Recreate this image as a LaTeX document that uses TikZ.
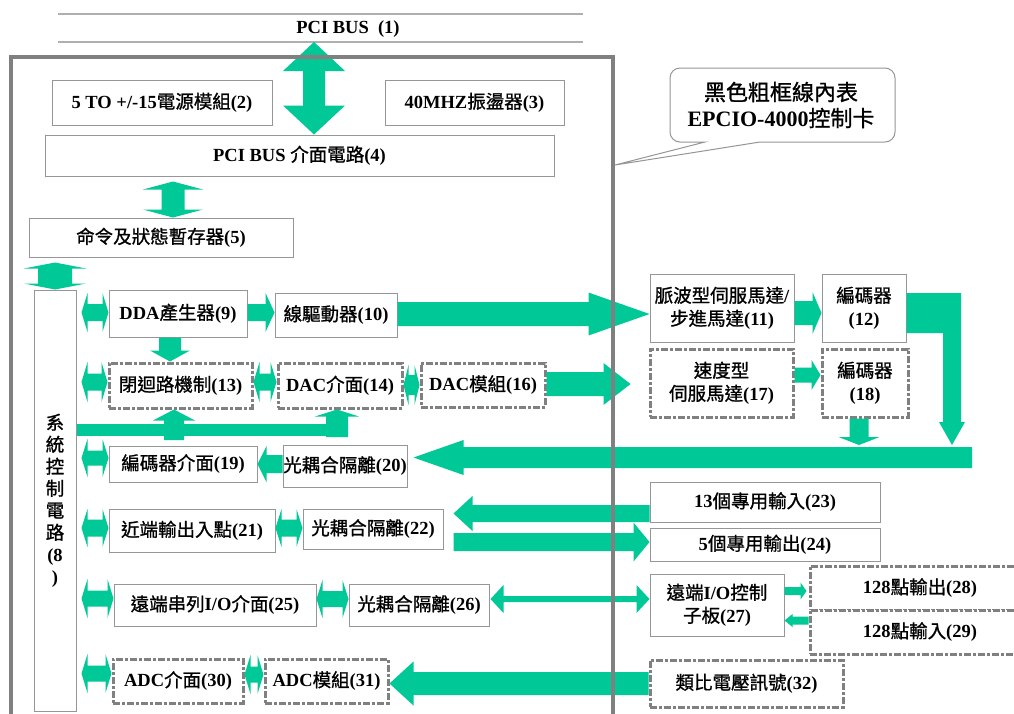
\documentclass[tikz,border=0pt]{standalone}
\usepackage{fontspec}
\setmainfont{Liberation Serif}
\newfontfamily\cjk{Noto Sans CJK TC}[FakeBold=1]
\newcommand\z[1]{{\cjk\mdseries #1}}
\usetikzlibrary{calc}
\definecolor{grn}{RGB}{0,200,150}
\definecolor{edgegray}{RGB}{150,150,150}
\definecolor{framegray}{RGB}{128,128,128}
\definecolor{busgray}{RGB}{175,175,175}

\tikzset{
  box/.style={draw=edgegray, line width=1pt, fill=white, inner sep=0pt, align=center,
              font=\bfseries\fontsize{18.5}{23}\selectfont},
  dbox/.style={box, draw=framegray, line width=3pt, dash pattern=on 7pt off 2pt on 3pt off 2pt},
  blk/.style={fill=grn},
  busline/.style={draw=busgray, line width=1.5pt},
}

% box: [style]{name}{x1}{y1}{x2}{y2}{text}
\newcommand\bx[7][]{\node[box,#1,minimum width={(#5-#3)*1pt},minimum height={(#6-#4)*1pt}]
  (#2) at ({(#3+#5)/2},{(#4+#6)/2}) {#7};}

% horizontal block arrows: {from}{to}{y centre}{shaft half}{head half}{head length}
\newcommand\hdbl[6]{\fill[blk] let \p1=#1, \p2=#2 in
  (\x1,-#3pt) -- (\x1+#6pt,-#3pt+#5pt) -- (\x1+#6pt,-#3pt+#4pt) -- (\x2-#6pt,-#3pt+#4pt)
  -- (\x2-#6pt,-#3pt+#5pt) -- (\x2,-#3pt) -- (\x2-#6pt,-#3pt-#5pt) -- (\x2-#6pt,-#3pt-#4pt)
  -- (\x1+#6pt,-#3pt-#4pt) -- (\x1+#6pt,-#3pt-#5pt) -- cycle;}
\newcommand\hR[6]{\fill[blk] let \p1=#1, \p2=#2 in
  (\x1,-#3pt+#4pt) -- (\x2-#6pt,-#3pt+#4pt) -- (\x2-#6pt,-#3pt+#5pt) -- (\x2,-#3pt)
  -- (\x2-#6pt,-#3pt-#5pt) -- (\x2-#6pt,-#3pt-#4pt) -- (\x1,-#3pt-#4pt) -- cycle;}
\newcommand\hL[6]{\fill[blk] let \p1=#1, \p2=#2 in
  (\x1,-#3pt+#4pt) -- (\x2+#6pt,-#3pt+#4pt) -- (\x2+#6pt,-#3pt+#5pt) -- (\x2,-#3pt)
  -- (\x2+#6pt,-#3pt-#5pt) -- (\x2+#6pt,-#3pt-#4pt) -- (\x1,-#3pt-#4pt) -- cycle;}
% vertical block arrows: {from}{to}{x centre}{shaft half}{head half}{head length}
\newcommand\vdbl[6]{\fill[blk] let \p1=#1, \p2=#2 in
  (#3pt,\y1) -- (#3pt+#5pt,\y1-#6pt) -- (#3pt+#4pt,\y1-#6pt) -- (#3pt+#4pt,\y2+#6pt)
  -- (#3pt+#5pt,\y2+#6pt) -- (#3pt,\y2) -- (#3pt-#5pt,\y2+#6pt) -- (#3pt-#4pt,\y2+#6pt)
  -- (#3pt-#4pt,\y1-#6pt) -- (#3pt-#5pt,\y1-#6pt) -- cycle;}
\newcommand\vD[6]{\fill[blk] let \p1=#1, \p2=#2 in
  (#3pt-#4pt,\y1) -- (#3pt+#4pt,\y1) -- (#3pt+#4pt,\y2+#6pt) -- (#3pt+#5pt,\y2+#6pt)
  -- (#3pt,\y2) -- (#3pt-#5pt,\y2+#6pt) -- (#3pt-#4pt,\y2+#6pt) -- cycle;}
\newcommand\vU[6]{\fill[blk] let \p1=#1, \p2=#2 in
  (#3pt-#4pt,\y1) -- (#3pt+#4pt,\y1) -- (#3pt+#4pt,\y2-#6pt) -- (#3pt+#5pt,\y2-#6pt)
  -- (#3pt,\y2) -- (#3pt-#5pt,\y2-#6pt) -- (#3pt-#4pt,\y2-#6pt) -- cycle;}

\begin{document}
\begin{tikzpicture}[x=1pt,y=-1pt]
\useasboundingbox[fill=white] (0,0) rectangle (1014,713);

% PCI bus
\draw[busline] (58,14) -- (583,14);
\draw[busline] (58,42) -- (583,42);
\node[font=\bfseries\fontsize{18.5}{22}\selectfont] (pci) at (348,29) {PCI BUS\ \ (1)};
\coordinate (bus) at (314,42);

% callout
\draw[draw=edgegray, line width=1pt, fill=white] (705,142) -- (615,165) -- (760,142)
  {[rounded corners=10pt] -- (895,142) -- (895,68) -- (670,68) -- (670,142)} -- cycle;
\node[font=\bfseries\fontsize{22}{26}\selectfont, align=center] (cal) at (781,105)
  {\z{黑色粗框線內表}\\EPCIO-4000\z{控制卡}};

% card blocks
\bx{n2}{52}{80}{272}{125}{5 TO +/-15\z{電源模組}(2)}
\bx{n3}{385}{80}{564}{125}{40MHZ\z{振盪器}(3)}
\bx{n4}{45}{135}{554}{176}{PCI BUS \z{介面電路}(4)}
\bx{n5}{29}{218}{293}{257}{\z{命令及狀態暫存器}(5)}
\bx[font=\bfseries\fontsize{18.5}{22}\selectfont]{n8}{34}{290}{76}{711}
  {\z{系}\\\z{統}\\\z{控}\\\z{制}\\\z{電}\\\z{路}\\(8\\)}
\bx{n9}{109}{290}{247}{337}{DDA\z{產生器}(9)}
\bx{n10}{275}{293}{397}{337}{\z{線驅動器}(10)}
\bx{n11}{650}{274}{794}{342}{\z{脈波型伺服馬達}/\\\z{步進馬達}(11)}
\bx{n12}{822}{274}{906}{342}{\z{編碼器}\\(12)}
\bx[dbox]{n13}{109}{363}{252}{408}{\z{閉迴路機制}(13)}
\bx[dbox]{n14}{278}{363}{402}{408}{DAC\z{介面}(14)}
\bx[dbox]{n16}{421}{363}{545}{407}{DAC\z{模組}(16)}
\bx[dbox]{n17}{650}{349}{793}{417}{\z{速度型}\\\z{伺服馬達}(17)}
\bx[dbox]{n18}{822}{349}{908}{417}{\z{編碼器}\\(18)}
\bx{n19}{109}{446}{257}{482}{\z{編碼器介面}(19)}
\bx{n20}{283}{445}{407}{487}{\z{光耦合隔離}(20)}
\bx{n21}{109}{509}{275}{552}{\z{近端輸出入點}(21)}
\bx{n22}{303}{509}{443}{549}{\z{光耦合隔離}(22)}
\bx{n23}{650}{482}{880}{522}{13\z{個專用輸入}(23)}
\bx{n24}{650}{528}{880}{561}{5\z{個專用輸出}(24)}
\bx{n25}{114}{584}{316}{626}{\z{遠端串列}I/O\z{介面}(25)}
\bx{n26}{349}{584}{489}{626}{\z{光耦合隔離}(26)}
\bx{n27}{650}{574}{784}{636}{\z{遠端}I/O\z{控制}\\\z{子板}(27)}
\bx[dbox]{n28}{810}{566}{1030}{610}{128\z{點輸出}(28)}
\bx[dbox]{n29}{810}{610}{1030}{654}{128\z{點輸入}(29)}
\bx[dbox]{n30}{113}{659}{243}{703}{ADC\z{介面}(30)}
\bx[dbox]{n31}{265}{659}{388}{703}{ADC\z{模組}(31)}
\bx[dbox]{n32}{650}{660}{843}{707}{\z{類比電壓訊號}(32)}

% bus and register links
\vdbl{(bus)}{(n4.north)}{314}{11}{31}{29}
\vdbl{([yshift=-5pt]n4.south)}{(n5.north)}{173}{11.5}{30}{8}
\vdbl{([yshift=-5pt]n5.south)}{(n8.north)}{55}{17}{31}{6}

% links from the system control circuit
\hdbl{([xshift=5pt]n8.east)}{(n9.west)}{312.5}{8.5}{19.5}{6}
\hdbl{([xshift=5pt]n8.east)}{(n13.west)}{382}{8.5}{20}{6}
\hdbl{([xshift=5pt]n8.east)}{(n19.west)}{458}{7.5}{19}{6}
\hdbl{([xshift=5pt]n8.east)}{(n21.west)}{528}{8.5}{19}{6}
\hdbl{([xshift=5pt]n8.east)}{(n25.west)}{598.5}{8}{19.5}{6}
\hdbl{([xshift=5pt]n8.east)}{(n30.west)}{673.5}{8}{19.5}{6}

% pulse axis
\hR{(n9.east)}{(n10.west)}{312.5}{8.5}{19.5}{9}
\hR{(n10.east)}{(n11.west)}{314}{12}{21.5}{61}
\hR{(n11.east)}{(n12.west)}{313}{12}{21}{9}
\fill[blk] let \p1=(n12.east) in
  (\x1,-293pt) -- (961pt,-293pt) -- (961pt,-422pt) -- (965pt,-422pt) -- (952pt,-445pt)
  -- (939pt,-422pt) -- (943pt,-422pt) -- (943pt,-333pt) -- (\x1,-333pt) -- cycle;

% velocity axis
\vD{(n9.south)}{(n13.north)}{170}{11}{20}{11}
\hdbl{(n13.east)}{(n14.west)}{382}{8.5}{20}{6}
\hdbl{(n14.east)}{(n16.west)}{385}{10}{20}{5}
\hR{(n16.east)}{([xshift=-18pt]n17.west)}{384}{12}{21}{27}
\hR{(n17.east)}{(n18.west)}{375}{7.5}{15}{9}
\vD{(n18.south)}{(0,445)}{859}{9.5}{20.5}{8}

% encoder feedback
\coordinate (fbR) at (972,457.5);
\hL{(fbR)}{([xshift=6pt]n20.east)}{457.5}{10.5}{17.5}{50}
\hL{(n20.west)}{(n19.east)}{464}{9}{18}{9}
\fill[blk] let \p1=(n8.east) in (\x1,-424pt) rectangle (348pt,-436pt);
\coordinate (fb13) at (174,440);
\coordinate (fb14) at (337,437);
\vU{(fb13)}{(n13.south)}{174}{10}{21}{11}
\vU{(fb14)}{(n14.south)}{337}{11}{22}{7}

% local I/O
\hdbl{(n21.east)}{(n22.west)}{528}{8.5}{19}{6}
\hL{(n23.west)}{([xshift=10pt]n22.east)}{513.5}{8.5}{17.5}{19}
\hR{([xshift=10pt]n22.east)}{(n24.west)}{542}{9}{19.5}{16}

% remote I/O
\hdbl{(n25.east)}{(n26.west)}{599}{8}{19}{6}
\hdbl{([xshift=1pt]n26.east)}{(n27.west)}{599}{3}{14}{13}
\hR{(n27.east)}{([xshift=-2pt]n28.west)}{591}{4}{8.5}{6}
\hL{(n29.west)}{(n27.east)}{620.5}{4}{6.5}{8}

% analog input
\hdbl{(n30.east)}{(n31.west)}{674.5}{8}{19.5}{6}
\hL{(n32.west)}{(n31.east)}{683.5}{11.5}{22}{24}

% thick frame of the control card
\draw[draw=framegray, line width=4pt] (11,730) -- (11,57) -- (613,57) -- (613,730);
\end{tikzpicture}
\end{document}
